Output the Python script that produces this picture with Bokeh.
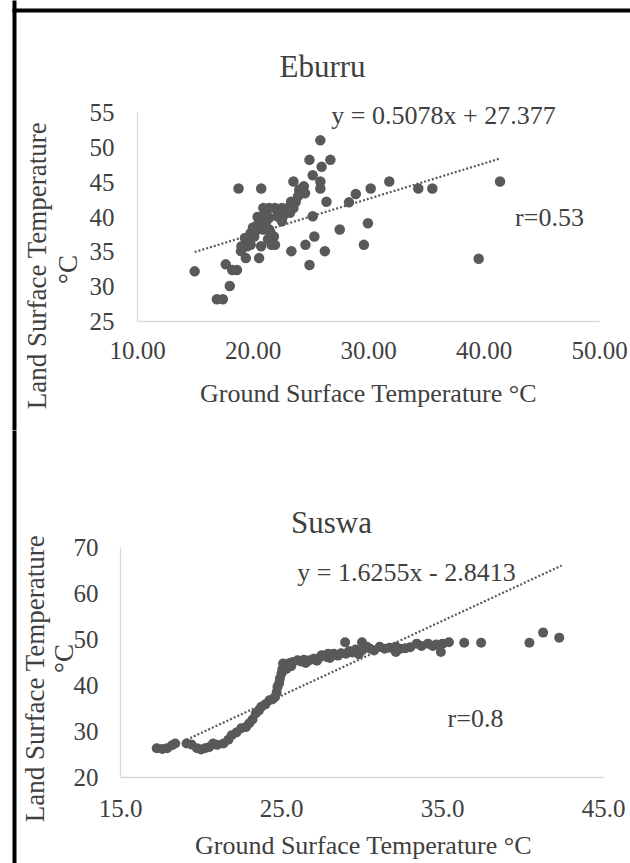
import numpy as np
from bokeh.plotting import figure
from bokeh.models import FixedTicker, NumeralTickFormatter, Range1d
from bokeh.core.properties import value
from bokeh.layouts import column
from bokeh.embed import file_html
from bokeh.resources import INLINE

# ---------------- Eburru ----------------
eburru_gst = [14.95, 16.87, 17.39, 17.99, 17.64, 18.2, 18.61, 18.75, 20.71, 18.96,
              19.38, 20.53, 23.5, 24.89, 25.83, 25.94, 26.7, 25.17, 25.83, 25.83,
              26.36, 25.17, 25.31, 24.54, 23.32, 26.22, 24.89, 27.51, 28.31, 28.9,
              30.19, 29.95, 29.6, 31.8, 34.31, 35.53, 39.54, 41.39,
              19.3, 19.8, 20.4, 20.9, 21.4, 21.8, 21.6, 20.7, 19.8, 19.5,
              20.4, 20.9, 21.4, 21.9, 22.1, 22.5, 23.0, 20.9, 21.4, 22.1,
              22.6, 23.2, 23.5, 23.7, 23.9, 24.0, 24.4, 24.5, 23.3, 22.5,
              21.1, 20.4, 20.1, 21.3, 21.9, 19.0, 21.0, 22.8, 20.0, 19.6, 21.5]
eburru_lst = [32.2, 28.2, 28.2, 30.1, 33.2, 32.4, 32.4, 44.1, 44.1, 35.1,
              34.1, 34.1, 45.1, 48.2, 51.0, 47.2, 48.2, 46.0, 45.1, 44.1,
              42.2, 40.1, 37.2, 36.0, 35.1, 35.1, 33.1, 38.2, 42.1, 43.3,
              44.1, 39.1, 36.0, 45.1, 44.1, 44.1, 34.0, 45.1,
              37.0, 37.7, 38.2, 38.2, 38.2, 37.2, 36.0, 35.8, 36.0, 35.8,
              40.0, 41.3, 41.3, 41.3, 41.0, 41.3, 41.3, 39.9, 39.9, 40.1,
              40.1, 40.6, 41.3, 42.2, 43.0, 43.9, 44.4, 43.4, 42.2, 39.4,
              39.1, 38.9, 37.2, 36.8, 36.0, 35.8, 40.5, 40.8, 38.5, 36.8, 37.8]
eburru_slope = 0.5078
eburru_intercept = 27.377
eburru_r = "r=0.53"
eburru_equation = "y = 0.5078x + 27.377"
eburru_x_ticks = [10, 20, 30, 40, 50]
eburru_y_ticks = [25, 30, 35, 40, 45, 50, 55]

# ---------------- Suswa ----------------
suswa_gst = [17.25, 17.6, 17.9, 18.2, 18.4, 19.1, 19.4, 19.75, 20.0, 20.25,
             20.5, 20.75, 21.0, 21.4, 21.7, 21.9, 22.2, 22.5, 22.8, 23.0,
             23.2, 23.4, 23.6, 23.75, 24.0, 24.25, 24.45, 24.6, 24.7, 24.75,
             24.85, 24.9, 25.0, 25.05, 25.1, 25.3, 25.5, 25.7, 26.0, 26.2,
             26.4, 26.75, 27.0, 27.2, 27.5, 27.8, 28.0, 28.25, 28.5, 28.7,
             28.95, 29.0, 29.2, 29.4, 29.6, 29.8, 30.0, 30.0, 30.3, 30.5,
             30.75, 31.1, 31.4, 31.7, 32.1, 32.1, 32.4, 32.7, 33.0, 33.4,
             33.7, 34.1, 34.4, 34.6, 34.9, 35.0, 35.4, 36.35, 37.4, 40.4,
             41.25, 42.25, 25.3, 25.6, 26.5, 27.3, 27.9]
suswa_lst = [26.35, 26.2, 26.35, 27.0, 27.4, 27.4, 27.2, 26.35, 26.1, 26.35,
             26.6, 27.4, 27.1, 27.4, 28.2, 29.2, 29.8, 30.7, 31.0, 31.8,
             32.6, 33.9, 34.6, 35.4, 35.9, 36.8, 37.0, 37.5, 38.5, 39.7,
             40.5, 41.5, 42.6, 43.5, 44.8, 44.3, 44.9, 45.1, 45.5, 45.2,
             45.6, 45.5, 45.8, 45.4, 46.6, 46.2, 46.0, 46.9, 46.5, 47.0,
             49.4, 46.9, 47.5, 47.2, 47.8, 46.8, 49.4, 47.6, 48.4, 48.0,
             47.6, 48.4, 48.0, 48.2, 48.4, 47.3, 48.0, 48.1, 48.3, 49.1,
             48.6, 49.1, 48.6, 48.9, 47.3, 49.1, 49.4, 49.3, 49.3, 49.3,
             51.5, 50.4, 43.6, 44.2, 44.9, 45.9, 46.9]
suswa_slope = 1.6255
suswa_intercept = -2.8413
suswa_trend_x = [19.1, 42.4]
suswa_r = "r=0.8"
suswa_equation = "y = 1.6255x - 2.8413"
suswa_x_ticks = [15, 25, 35, 45]
suswa_y_ticks = [20, 30, 40, 50, 60, 70]

AXIS_LABEL = "Ground Surface Temperature °C"
Y_LABEL_1 = "Land Surface Temperature"
Y_LABEL_2 = "°C"

FONT = "Liberation Serif"
TEXT_COLOR = "#404040"
DOT_COLOR = "#595959"
W = 630


class Panel:
    def __init__(self, height, frame, xr, yr, origin):
        self.height, self.frame, self.xr, self.yr, self.origin = height, frame, xr, yr, origin

    def to_data(self, cx, cy):
        left, top, right, bottom = self.frame
        x = self.xr[0] + (cx - left) / (right - left) * (self.xr[1] - self.xr[0])
        y = self.yr[1] - (cy - top) / (bottom - top) * (self.yr[1] - self.yr[0])
        return x, y


def make_fig(pn, xticks, yticks, xfmt, yfmt, xstand, ystand):
    left, top, right, bottom = pn.frame
    p = figure(width=W, height=pn.height, output_backend="svg", toolbar_location=None,
               x_range=Range1d(*pn.xr), y_range=Range1d(*pn.yr),
               min_border_left=left, min_border_top=top,
               min_border_right=W - right, min_border_bottom=pn.height - bottom)
    try:
        p.frame_align = False   # keep each plot's own frame (no alignment in the column)
    except Exception:
        pass
    p.outline_line_color = None
    p.background_fill_color = "white"
    p.border_fill_color = "white"
    p.xgrid.visible = False
    p.ygrid.visible = False
    for ax, ticks, fmt, st in ((p.xaxis[0], xticks, xfmt, xstand), (p.yaxis[0], yticks, yfmt, ystand)):
        ax.ticker = FixedTicker(ticks=ticks)
        ax.formatter = NumeralTickFormatter(format=fmt)
        ax.axis_line_color = "#d9d9d9"
        ax.axis_line_width = 1.3
        ax.major_tick_line_color = None
        ax.minor_tick_line_color = None
        ax.major_tick_out = 0
        ax.major_tick_in = 0
        ax.major_label_standoff = st
        ax.major_label_text_font = FONT
        ax.major_label_text_font_size = "25px"
        ax.major_label_text_color = TEXT_COLOR
    return p


def add_text(p, pn, txt, px, py, size, angle=0.0):
    # px, py: page pixel position of the text centre
    x, y = pn.to_data(px - pn.origin[0], py - pn.origin[1])
    p.text(x=[x], y=[y], text=[txt], angle=angle, text_font=value(FONT),
           text_font_size=value(size), text_color=TEXT_COLOR,
           text_align="center", text_baseline="middle", level="overlay")


def add_border(p, pn, top_edge):
    # black edge of the whole figure (left side, and top for the first panel)
    ox, oy = pn.origin
    l, t = pn.to_data(12 - ox, 0)
    r, b = pn.to_data(16 - ox, pn.height)
    p.quad(left=[l], right=[r], top=[t], bottom=[b], fill_color="black",
           line_color=None, level="overlay")
    if top_edge:
        l, t = pn.to_data(12 - ox, 8 - oy)
        r, b = pn.to_data(W, 12 - oy)
        p.quad(left=[l], right=[r], top=[t], bottom=[b], fill_color="black",
               line_color=None, level="overlay")


# ---------- Figure 1: Eburru ----------
pn1 = Panel(430, (137, 112, 599, 321), (10, 50), (25, 55), (0, 0))
p1 = make_fig(pn1, eburru_x_ticks, eburru_y_ticks, "0.00", "0", 20, 23)
p1.scatter(eburru_gst, eburru_lst, size=10.5, fill_color=DOT_COLOR, line_color=None)
tx1 = np.array([min(eburru_gst), max(eburru_gst)])
p1.line(tx1, eburru_slope * tx1 + eburru_intercept, line_color=DOT_COLOR,
        line_width=2.2, line_dash="2 2")
add_text(p1, pn1, "Eburru", 322, 66, "31px")
add_text(p1, pn1, eburru_equation, 443, 115, "26px")
add_text(p1, pn1, eburru_r, 549, 217, "26px")
add_text(p1, pn1, Y_LABEL_1, 36, 265, "27px", np.pi / 2)
add_text(p1, pn1, Y_LABEL_2, 67, 269, "27px", np.pi / 2)
add_text(p1, pn1, AXIS_LABEL, 368, 393, "26px")
add_border(p1, pn1, True)

# ---------- Figure 2: Suswa ----------
pn2 = Panel(433, (120, 117, 603, 347), (15, 45), (20, 70), (0, 430))
p2 = make_fig(pn2, suswa_x_ticks, suswa_y_ticks, "0.0", "0", 22, 22)
p2.scatter(suswa_gst, suswa_lst, size=10, fill_color=DOT_COLOR, line_color=None)
tx2 = np.array(suswa_trend_x)
p2.line(tx2, suswa_slope * tx2 + suswa_intercept, line_color=DOT_COLOR,
        line_width=2.2, line_dash="2 2")
add_text(p2, pn2, "Suswa", 331, 522, "31px")
add_text(p2, pn2, suswa_equation, 406, 572, "26px")
add_text(p2, pn2, suswa_r, 475, 718, "26px")
add_text(p2, pn2, Y_LABEL_1, 34, 678, "27px", np.pi / 2)
add_text(p2, pn2, Y_LABEL_2, 63, 658, "27px", np.pi / 2)
add_text(p2, pn2, AXIS_LABEL, 363, 845, "26px")
add_border(p2, pn2, False)

layout = column(p1, p2, spacing=0)

with open("out.html", "w") as fh:
    fh.write(file_html(layout, INLINE))
